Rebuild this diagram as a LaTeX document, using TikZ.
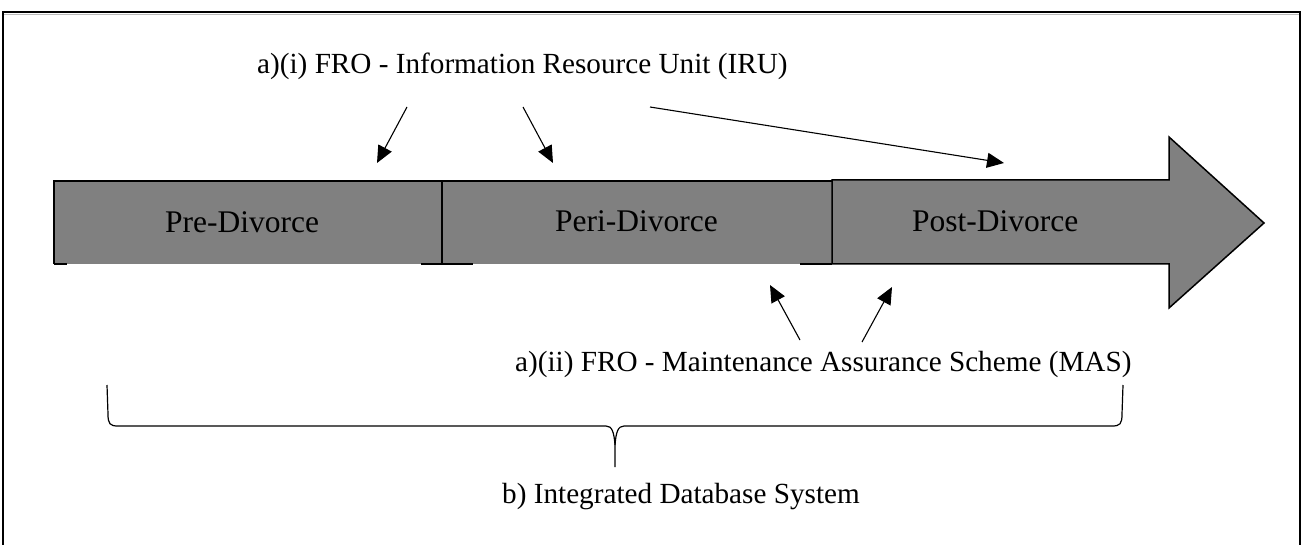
\documentclass[tikz,border=0pt]{standalone}
\usepackage{fontspec}
\setmainfont{Liberation Serif}
\usetikzlibrary{arrows.meta}
\definecolor{bandgray}{HTML}{808080}
\definecolor{rulegray}{HTML}{BBBBBB}
\begin{document}
\begin{tikzpicture}[x=1pt,y=-1pt,
  frameline/.style={line width=2pt},
  edge/.style={line width=1.5pt},
  pointer/.style={line width=1.1pt,-{Triangle[length=17pt,width=15pt]}},
  bracepath/.style={line width=1.2pt},
  stage/.style={font=\fontsize{31.5}{36}\selectfont,anchor=base west,inner sep=0pt},
  note/.style={font=\fontsize{29.2}{34}\selectfont,anchor=base west,inner sep=0pt}]
\useasboundingbox (0,0) rectangle (1303,545);

% outer frame (open at the bottom)
\draw[frameline] (3,545) -- (3,12) -- (1300,12) -- (1300,545);
\draw[rulegray,line width=0.8pt] (4,14.5) -- (1299,14.5);

% timeline band
\fill[bandgray] (54,181) rectangle (442,264);
\fill[bandgray] (442,181) rectangle (832,264);
\fill[bandgray] (832,180) -- (1169,180) -- (1169,137) -- (1264,223)
  -- (1169,308) -- (1169,264) -- (832,264) -- cycle;

% band outlines
\draw[edge] (54,264) -- (54,181) -- (832,181);
\draw[edge] (54,264) -- (67,264);
\draw[edge] (421,264) -- (473,264);
\draw[edge] (442,181) -- (442,264);
\draw[edge] (800,264) -- (832,264);
\draw[edge,line join=miter] (832,264) -- (832,180) -- (1169,180) -- (1169,137)
  -- (1264,223) -- (1169,308) -- (1169,264) -- cycle;

% stage names
\node[stage] (pre)  at (165,233) {Pre-Divorce};
\node[stage] (peri) at (555,232) {Peri-Divorce};
\node[stage] (post) at (912,232) {Post-Divorce};

% annotations
\node[note] (iru) at (257,74)  {a)(i) FRO - Information Resource Unit (IRU)};
\node[note] (mas) at (515,371) {a)(ii) FRO - Maintenance Assurance Scheme (MAS)};
\node[note] (ids) at (502,503) {b) Integrated Database System};

% pointers from the IRU note
\coordinate (iruA) at (407,107); \coordinate (preT)  at (377,163);
\coordinate (iruB) at (523,107); \coordinate (periT) at (553,163);
\coordinate (iruC) at (650,107); \coordinate (postT) at (1004,163);
\draw[pointer] (iruA) -- (preT);
\draw[pointer] (iruB) -- (periT);
\draw[pointer] (iruC) -- (postT);

% pointers from the MAS note
\coordinate (masA) at (800,340); \coordinate (periB) at (770,285);
\coordinate (masB) at (862,342); \coordinate (postB) at (892,287);
\draw[pointer] (masA) -- (periB);
\draw[pointer] (masB) -- (postB);

% brace spanning all stages
\coordinate (bl) at (107,385);
\coordinate (br) at (1123,385);
\coordinate (bm) at (615,445);
\coordinate (bt) at (615,467);
\draw[bracepath] (bl) -- (108,414) .. controls (108,424) and (110,426) .. (118,426)
  -- (606,426) .. controls (612,426) and (614,432) .. (bm) -- (bt);
\draw[bracepath] (bm) .. controls (616,432) and (618,426) .. (624,426)
  -- (1112,426) .. controls (1120,426) and (1122,424) .. (1122,414) -- (br);
\end{tikzpicture}
\end{document}
